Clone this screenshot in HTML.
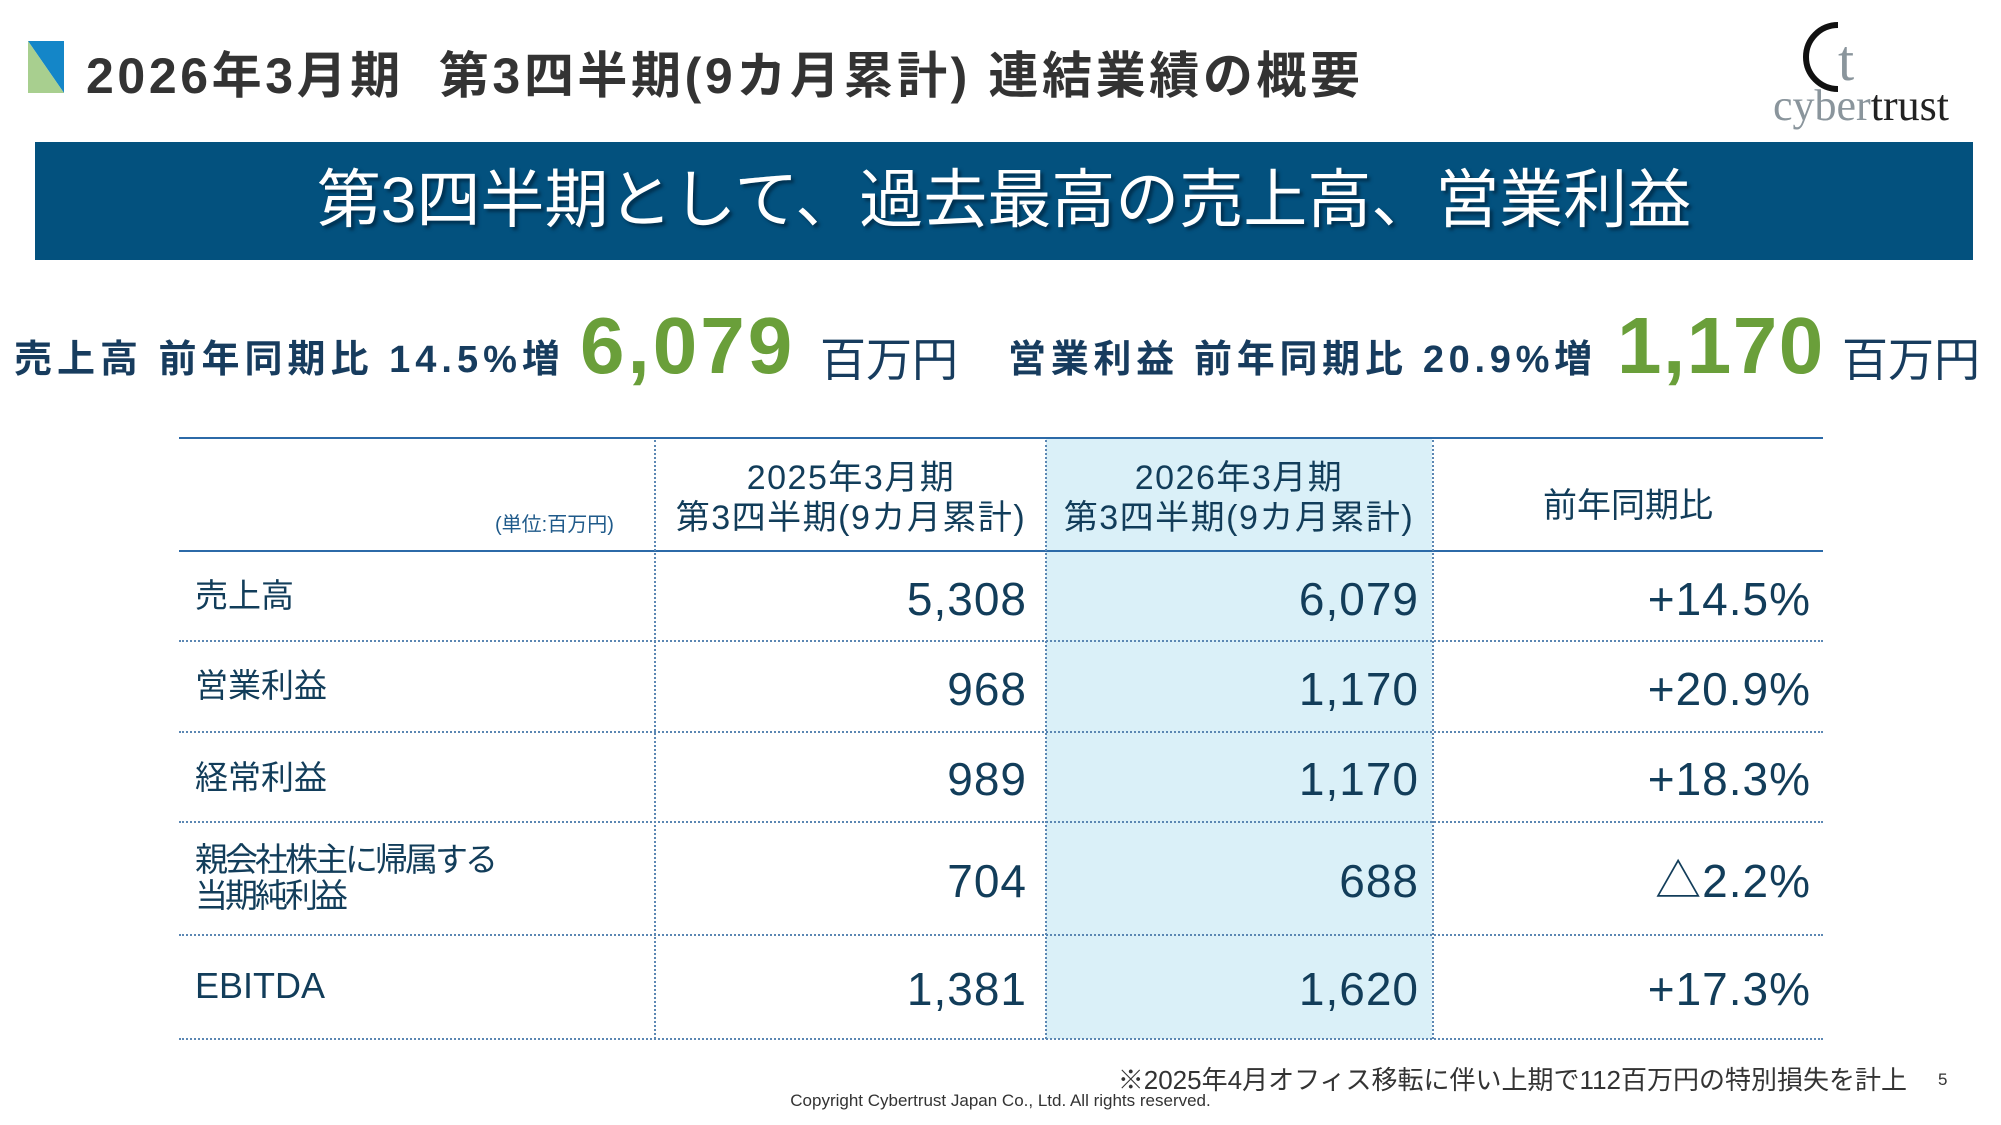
<!DOCTYPE html>
<html><head><meta charset="utf-8"><style>
*{margin:0;padding:0;box-sizing:border-box}
body{width:2001px;height:1125px;background:#fff;position:relative;overflow:hidden;font-family:"Liberation Sans","Noto Sans CJK JP",sans-serif;color:#123d5a}
.a{position:absolute;white-space:nowrap}
.hl{position:absolute;left:179px;width:1644px;height:0}
.vl{position:absolute;top:440px;height:599px;width:0;border-left:2px dotted #5b87b3}
.lab{position:absolute;left:195px;font-size:33px;line-height:36px}
.num{position:absolute;font-size:46px;text-align:right;line-height:46px;letter-spacing:1px}
</style></head><body>
<svg class="a" style="left:28px;top:41px" width="36" height="52"><polygon points="0,0 36,0 36,52" fill="#1486c8"/><polygon points="0,0 36,52 0,52" fill="#a8cf8f"/></svg>
<div class="a" style="left:86px;top:36px;font-size:50px;font-weight:bold;color:#333;letter-spacing:3.6px">2026年3月期&nbsp; 第3四半期(9カ月累計) 連結業績の概要</div>
<svg class="a" style="left:1770px;top:20px" width="200" height="115">
<path d="M68 5 A32 32 0 0 0 68 69" stroke="#111" stroke-width="6" fill="none"/>
<text x="68" y="60" font-family="Liberation Serif,serif" font-size="58" fill="#8a959c">t</text>
<text x="3" y="100" font-family="Liberation Serif,serif" font-size="44" fill="#8a959c">cyber<tspan fill="#222">trust</tspan></text>
</svg>
<div class="a" style="left:35px;top:142px;width:1938px;height:118px;background:#03517e"></div>
<div class="a" style="left:35px;top:160px;width:1938px;text-align:center;font-size:64px;color:#fff;text-shadow:3px 3px 3px #00304f;line-height:80px">第3四半期として、過去最高の売上高、営業利益</div>
<div class="a" style="left:14px;top:328px;font-size:38px;font-weight:bold;color:#173c5e;letter-spacing:5px">売上高 前年同期比 14.5%増</div>
<div class="a" style="left:580px;top:300px;font-size:80px;font-weight:bold;color:#6a9f3a;letter-spacing:3px">6,079</div>
<div class="a" style="left:820px;top:324px;font-size:46px;color:#173c5e">百万円</div>
<div class="a" style="left:1008px;top:328px;font-size:38px;font-weight:bold;color:#173c5e;letter-spacing:4.7px">営業利益 前年同期比 20.9%増</div>
<div class="a" style="left:1617px;top:300px;font-size:80px;font-weight:bold;color:#6a9f3a;letter-spacing:1.5px">1,170</div>
<div class="a" style="left:1842px;top:324px;font-size:46px;color:#173c5e">百万円</div>

<div class="a" style="left:1046px;top:439px;width:386px;height:600px;background:#daf0f8"></div>
<div class="hl" style="top:437px;border-top:2px solid #2c6aa8"></div>
<div class="hl" style="top:550px;border-top:2px solid #2c6aa8"></div>
<div class="hl" style="top:640px;border-top:2px dotted #5b87b3"></div>
<div class="hl" style="top:731px;border-top:2px dotted #5b87b3"></div>
<div class="hl" style="top:821px;border-top:2px dotted #5b87b3"></div>
<div class="hl" style="top:934px;border-top:2px dotted #5b87b3"></div>
<div class="hl" style="top:1038px;border-top:2px dotted #5b87b3"></div>
<div class="vl" style="left:654px"></div>
<div class="vl" style="left:1045px"></div>
<div class="vl" style="left:1432px"></div>

<div class="a" style="left:495px;top:508px;font-size:20px;color:#1f5a8a">(単位:百万円)</div>
<div class="a" style="left:656px;top:458px;width:390px;text-align:center;font-size:34px;line-height:40px;letter-spacing:1.5px">2025年3月期<br>第3四半期(9カ月累計)</div>
<div class="a" style="left:1046px;top:458px;width:386px;text-align:center;font-size:34px;line-height:40px;letter-spacing:1.5px">2026年3月期<br>第3四半期(9カ月累計)</div>
<div class="a" style="left:1433px;top:478px;width:390px;text-align:center;font-size:34px">前年同期比</div>

<div class="lab" style="top:578px">売上高</div>
<div class="lab" style="top:668px">営業利益</div>
<div class="lab" style="top:760px">経常利益</div>
<div class="lab" style="top:842px;line-height:36px;letter-spacing:-3px">親会社株主に帰属する<br>当期純利益</div>
<div class="lab" style="top:968px;font-size:36px">EBITDA</div>

<div class="num" style="right:974px;top:576px">5,308</div>
<div class="num" style="right:582px;top:576px">6,079</div>
<div class="num" style="right:190px;top:576px">+14.5%</div>
<div class="num" style="right:974px;top:666px">968</div>
<div class="num" style="right:582px;top:666px">1,170</div>
<div class="num" style="right:190px;top:666px">+20.9%</div>
<div class="num" style="right:974px;top:756px">989</div>
<div class="num" style="right:582px;top:756px">1,170</div>
<div class="num" style="right:190px;top:756px">+18.3%</div>
<div class="num" style="right:974px;top:858px">704</div>
<div class="num" style="right:582px;top:858px">688</div>
<div class="num" style="right:190px;top:858px">△2.2%</div>
<div class="num" style="right:974px;top:966px">1,381</div>
<div class="num" style="right:582px;top:966px">1,620</div>
<div class="num" style="right:190px;top:966px">+17.3%</div>

<div class="a" style="right:94px;top:1060px;font-size:26px;color:#333">※2025年4月オフィス移転に伴い上期で112百万円の特別損失を計上</div>
<div class="a" style="left:1938px;top:1070px;font-size:17px;color:#333">5</div>
<div class="a" style="left:0;width:2001px;text-align:center;top:1091px;font-size:17px;color:#333">Copyright Cybertrust Japan Co., Ltd. All rights reserved.</div>
</body></html>
